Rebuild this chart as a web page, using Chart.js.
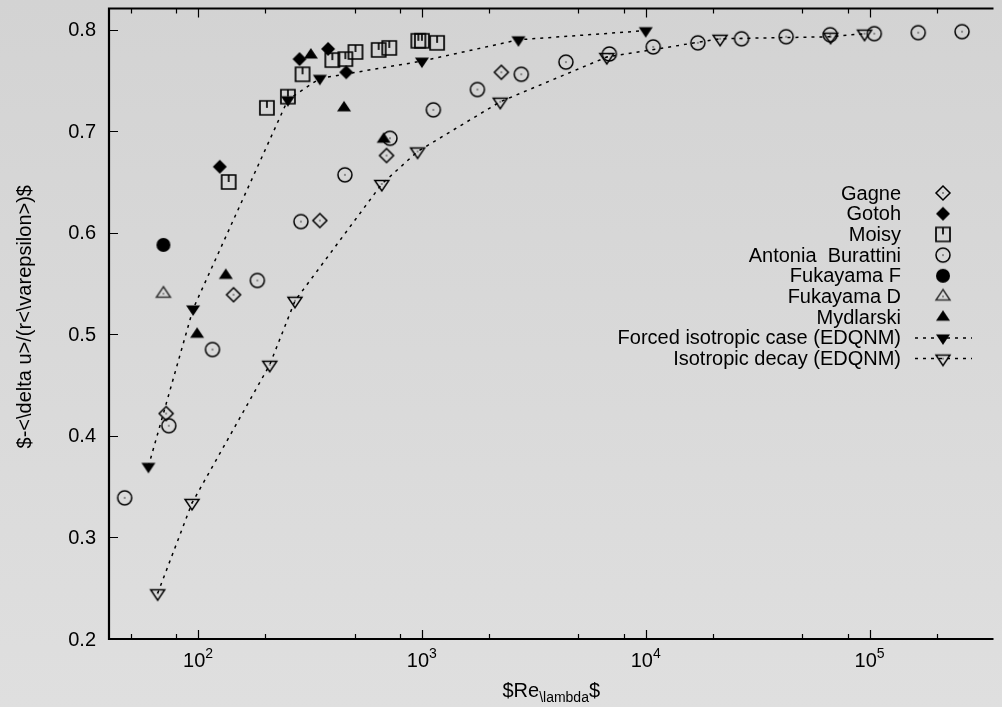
<!DOCTYPE html>
<html lang="en">
<head>
<meta charset="UTF-8">
<title>Re_lambda</title>
<script src="https://cdn.jsdelivr.net/npm/chart.js@4.4.0/dist/chart.umd.min.js"></script>
<style>
  html, body { margin: 0; padding: 0; overflow: hidden; }
  body { width: 1002px; height: 707px; background: linear-gradient(#d3d3d3, #dfdfdf); }
  #wrap { position: relative; width: 1002px; height: 707px; }
</style>
</head>
<body>
<div id="wrap"><canvas id="chart"></canvas></div>
<script>
// Re_lambda and normalised values for each data set
const gagneRe = [72, 144, 350, 695, 2265];
const gagneVal = [0.422, 0.539, 0.612, 0.676, 0.758];

const gotohRe = [125, 284, 381, 459];
const gotohVal = [0.665, 0.771, 0.781, 0.758];

const moisyRe = [137, 203, 252, 293, 398, 455, 505, 641, 715, 964, 1000, 1169];
const moisyVal = [0.650, 0.723, 0.734, 0.756, 0.770, 0.771, 0.778, 0.780, 0.782, 0.789, 0.789, 0.787];

const antoniaRe = [47, 74, 116, 184, 288, 453, 720, 1125, 1770, 2780, 4400, 6880,
                   10800, 17100, 26800, 42400, 66700, 105000, 165000, 259000];
const antoniaVal = [0.339, 0.410, 0.485, 0.553, 0.611, 0.657, 0.693, 0.721, 0.741, 0.756, 0.768, 0.776,
                    0.783, 0.787, 0.791, 0.793, 0.795, 0.796, 0.797, 0.798];

const fukFRe = [70];
const fukFVal = [0.588];

const fukDRe = [70];
const fukDVal = [0.540];

const mydRe = [99, 133, 319, 449, 675];
const mydVal = [0.500, 0.558, 0.775, 0.723, 0.692];

const forcedRe = [60, 95, 252, 350, 1000, 2700, 10000];
const forcedVal = [0.370, 0.525, 0.731, 0.752, 0.769, 0.790, 0.799];

const decayRe = [66, 94, 209, 271, 662, 957, 2240, 6700, 21500, 67000, 95000];
const decayVal = [0.245, 0.334, 0.470, 0.533, 0.648, 0.680, 0.729, 0.773, 0.791, 0.793, 0.796];

// axis ticks
const xMajor = [100, 1000, 10000, 100000];
const xMinor = [50, 80, 200, 500, 800, 2000, 5000, 8000, 20000, 50000, 80000, 200000];
const yTicks = [0.2, 0.3, 0.4, 0.5, 0.6, 0.7, 0.8];

const FONT = '"Liberation Sans", Arial, sans-serif';

// gnuplot-like point symbols drawn on small canvases
function marker(kind, color) {
  const s = 26, c = s / 2;
  const cv = document.createElement('canvas');
  cv.width = s; cv.height = s;
  const g = cv.getContext('2d');
  g.strokeStyle = color || '#000';
  g.fillStyle = color || '#000';
  g.lineWidth = 1.5;
  const dot = () => { g.fillStyle = '#000'; g.fillRect(c - 0.6, c - 0.6, 1.2, 1.2); };
  g.beginPath();
  switch (kind) {
    case 'diamond':
    case 'diamondFill':
      g.moveTo(c, c - 7); g.lineTo(c + 7, c); g.lineTo(c, c + 7); g.lineTo(c - 7, c); g.closePath();
      if (kind === 'diamondFill') g.fill(); else { g.stroke(); dot(); }
      break;
    case 'square':
      g.lineWidth = 1.7;
      g.rect(c - 7, c - 7, 14, 14);
      g.moveTo(c, c - 7); g.lineTo(c, c);
      g.stroke();
      break;
    case 'circle':
    case 'circleFill':
      g.arc(c, c, 7, 0, Math.PI * 2);
      if (kind === 'circleFill') g.fill(); else { g.stroke(); dot(); }
      break;
    case 'triUp':
    case 'triUpFill':
      g.moveTo(c, c - 7); g.lineTo(c + 7, c + 3.5); g.lineTo(c - 7, c + 3.5); g.closePath();
      if (kind === 'triUpFill') g.fill(); else { g.stroke(); dot(); }
      break;
    case 'triDown':
    case 'triDownFill':
      g.moveTo(c - 7, c - 3.5); g.lineTo(c + 7, c - 3.5); g.lineTo(c, c + 7); g.closePath();
      if (kind === 'triDownFill') g.fill(); else { g.stroke(); dot(); }
      break;
  }
  return cv;
}

const pts = (xs, ys) => xs.map((v, i) => ({ x: v, y: ys[i] }));

const series = [
  { label: 'Gagne', re: gagneRe, val: gagneVal, sym: marker('diamond') },
  { label: 'Gotoh', re: gotohRe, val: gotohVal, sym: marker('diamondFill') },
  { label: 'Moisy', re: moisyRe, val: moisyVal, sym: marker('square') },
  { label: 'Antonia  Burattini', re: antoniaRe, val: antoniaVal, sym: marker('circle') },
  { label: 'Fukayama F', re: fukFRe, val: fukFVal, sym: marker('circleFill') },
  { label: 'Fukayama D', re: fukDRe, val: fukDVal, sym: marker('triUp', '#333') },
  { label: 'Mydlarski', re: mydRe, val: mydVal, sym: marker('triUpFill') },
  { label: 'Forced isotropic case (EDQNM)', re: forcedRe, val: forcedVal, sym: marker('triDownFill'), line: true },
  { label: 'Isotropic decay (EDQNM)', re: decayRe, val: decayVal, sym: marker('triDown'), line: true }
];

const datasets = series.map(s => ({
  label: s.label,
  data: pts(s.re, s.val),
  pointStyle: s.sym,
  pointRadius: 7,
  showLine: !!s.line,
  borderColor: '#000',
  borderWidth: 1.5,
  borderDash: [3, 5],
  tension: 0,
  clip: false
}));

// axes, ticks, labels and key in gnuplot style
const frame = {
  id: 'frame',
  afterDraw(chart) {
    const { ctx, chartArea: a, scales: { x, y } } = chart;
    ctx.save();
    ctx.strokeStyle = '#000';
    ctx.fillStyle = '#000';

    ctx.lineWidth = 1.2;
    ctx.beginPath();
    xMajor.forEach(v => {
      const px = Math.round(x.getPixelForValue(v)) + 0.5;
      ctx.moveTo(px, a.bottom); ctx.lineTo(px, a.bottom - 9);
      ctx.moveTo(px, a.top); ctx.lineTo(px, a.top + 9);
    });
    xMinor.forEach(v => {
      const px = Math.round(x.getPixelForValue(v)) + 0.5;
      ctx.moveTo(px, a.bottom); ctx.lineTo(px, a.bottom - 5);
      ctx.moveTo(px, a.top); ctx.lineTo(px, a.top + 5);
    });
    yTicks.forEach(v => {
      const py = Math.round(y.getPixelForValue(v)) + 0.5;
      ctx.moveTo(a.left, py); ctx.lineTo(a.left + 9, py);
    });
    ctx.stroke();

    ctx.lineWidth = 2.2;
    ctx.beginPath();
    ctx.moveTo(a.right, a.top); ctx.lineTo(a.left, a.top);
    ctx.lineTo(a.left, a.bottom); ctx.lineTo(a.right, a.bottom);
    ctx.stroke();

    // y tick labels
    ctx.font = '20px ' + FONT;
    ctx.textAlign = 'right';
    ctx.textBaseline = 'middle';
    yTicks.forEach(v => ctx.fillText(v.toFixed(1), 96, y.getPixelForValue(v) + 1));

    // x tick labels as 10^n
    ctx.textAlign = 'left';
    ctx.textBaseline = 'alphabetic';
    xMajor.forEach(v => {
      const e = String(Math.round(Math.log10(v)));
      ctx.font = '20px ' + FONT;
      const w1 = ctx.measureText('10').width;
      ctx.font = '14px ' + FONT;
      const w2 = ctx.measureText(e).width;
      const x0 = x.getPixelForValue(v) - (w1 + w2) / 2;
      ctx.font = '20px ' + FONT;
      ctx.fillText('10', x0, 667);
      ctx.font = '14px ' + FONT;
      ctx.fillText(e, x0 + w1, 658);
    });

    // x axis title with subscript
    ctx.font = '20px ' + FONT;
    const t1 = '$Re', t3 = '$';
    const w1 = ctx.measureText(t1).width, w3 = ctx.measureText(t3).width;
    ctx.font = '14px ' + FONT;
    const t2 = '\\lambda';
    const w2 = ctx.measureText(t2).width;
    let tx = (a.left + a.right) / 2 - (w1 + w2 + w3) / 2;
    ctx.font = '20px ' + FONT;
    ctx.fillText(t1, tx, 697);
    ctx.font = '14px ' + FONT;
    ctx.fillText(t2, tx + w1, 702);
    ctx.font = '20px ' + FONT;
    ctx.fillText(t3, tx + w1 + w2, 697);

    // y axis title
    ctx.save();
    ctx.translate(31, (a.top + a.bottom) / 2 - 7);
    ctx.rotate(-Math.PI / 2);
    ctx.textAlign = 'center';
    ctx.fillText('$-<\\delta u>/(r<\\varepsilon>)$', 0, 0);
    ctx.restore();

    // key
    ctx.textAlign = 'right';
    ctx.textBaseline = 'middle';
    series.forEach((s, i) => {
      const ky = 193 + i * 20.7;
      ctx.fillText(s.label, 901, ky + 1);
      if (s.line) {
        ctx.save();
        ctx.lineWidth = 1.5;
        ctx.setLineDash([3, 5]);
        ctx.beginPath();
        ctx.moveTo(915, ky); ctx.lineTo(972, ky);
        ctx.stroke();
        ctx.restore();
      }
      ctx.drawImage(s.sym, 943 - s.sym.width / 2, ky - s.sym.height / 2);
    });

    ctx.restore();
  }
};

new Chart(document.getElementById('chart'), {
  type: 'scatter',
  data: { datasets },
  options: {
    responsive: true,
    maintainAspectRatio: false,
    animation: false,
    layout: { padding: { left: 109, right: 0, top: 7, bottom: 68 } },
    plugins: { legend: { display: false }, tooltip: { enabled: false } },
    scales: {
      x: { type: 'logarithmic', min: 40, max: 358000, display: false },
      y: { type: 'linear', min: 0.2, max: 0.8208, display: false }
    }
  },
  plugins: [frame]
});
</script>
</body>
</html>
